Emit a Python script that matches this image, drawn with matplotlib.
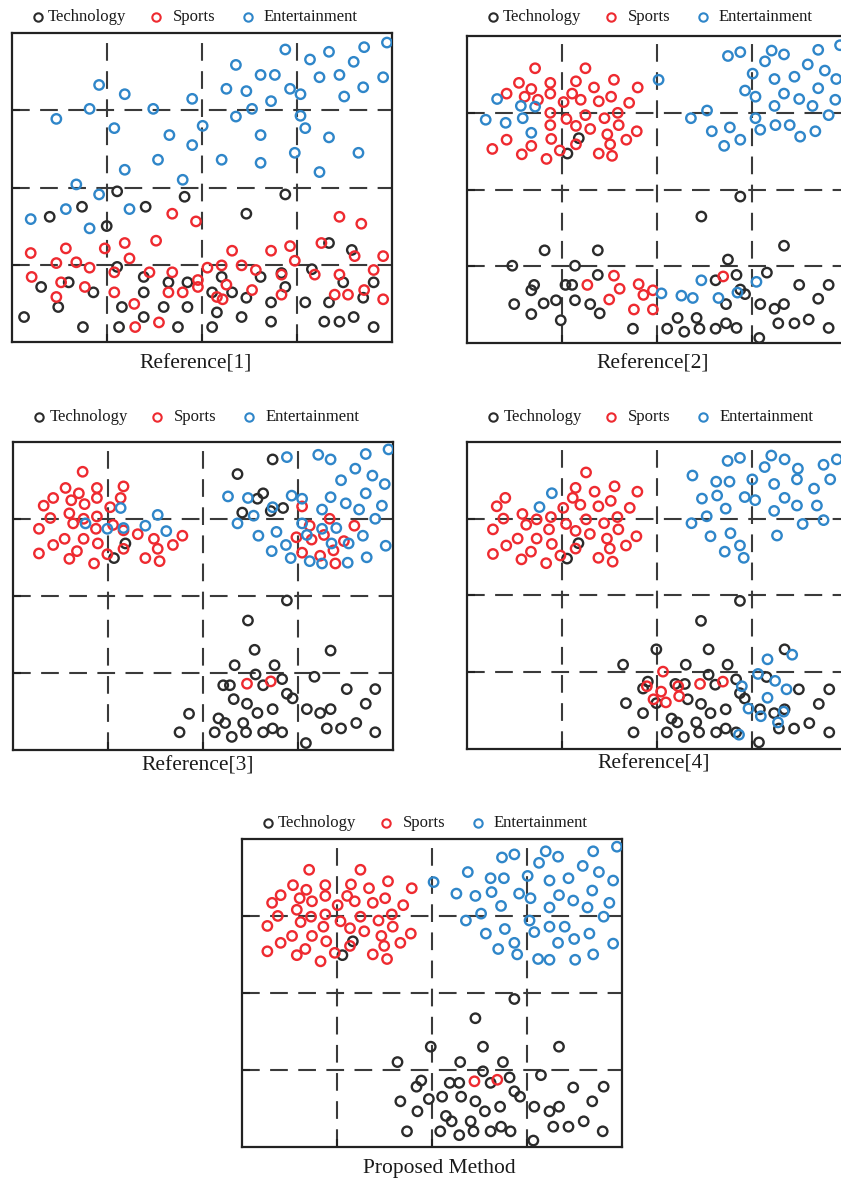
import matplotlib
matplotlib.use("Agg")
import matplotlib.pyplot as plt
import numpy as np

# ---------------- data (grid units 0..4) ----------------
categories = ["Technology", "Sports", "Entertainment"]
titles = ["Reference[1]", "Reference[2]", "Reference[3]", "Reference[4]", "Proposed Method"]

ref1_tech = [(1.11,1.95),(1.82,1.88),(2.88,1.91),(0.74,1.75),(0.40,1.62),(1.41,1.75),(2.47,1.66),(1.00,1.50),
             (3.34,1.28),(3.58,1.19),(1.11,0.97),(3.16,0.94),(1.39,0.84),(2.21,0.84),(2.62,0.84),(2.84,0.89),
             (1.65,0.77),(1.85,0.77),(3.49,0.77),(3.81,0.77),(0.60,0.77),(0.31,0.71),(0.86,0.64),(1.39,0.64),
             (2.11,0.64),(2.32,0.64),(2.88,0.71),(2.47,0.57),(3.70,0.57),(0.49,0.45),(1.16,0.45),(1.60,0.45),
             (1.85,0.45),(2.73,0.51),(3.09,0.51),(3.34,0.51),(2.16,0.38),(1.39,0.32),(0.13,0.32),(2.42,0.32),
             (2.73,0.26),(3.29,0.26),(3.45,0.26),(3.60,0.32),(0.75,0.19),(1.13,0.19),(1.75,0.19),(2.11,0.19),
             (3.81,0.19)]
ref1_sports = [(1.69,1.66),(1.94,1.56),(3.45,1.62),(3.68,1.53),(0.20,1.15),(0.57,1.21),(0.98,1.21),(1.19,1.28),
               (1.52,1.31),(1.24,1.08),(0.47,1.02),(0.68,1.03),(0.82,0.96),(2.32,1.18),(2.73,1.18),(2.93,1.24),
               (2.98,1.05),(3.26,1.28),(3.61,1.11),(3.91,1.11),(0.21,0.84),(0.52,0.77),(1.08,0.90),(1.45,0.90),
               (1.69,0.90),(2.06,0.96),(2.21,0.99),(2.42,0.99),(2.57,0.93),(2.84,0.87),(3.19,0.87),(3.45,0.87),
               (3.81,0.93),(1.96,0.80),(1.96,0.71),(2.26,0.74),(0.77,0.71),(1.08,0.64),(1.65,0.64),(1.80,0.64),
               (2.53,0.67),(2.16,0.58),(2.22,0.55),(2.84,0.61),(3.40,0.61),(3.54,0.61),(3.71,0.67),(3.91,0.55),
               (0.47,0.58),(1.29,0.49),(1.55,0.25),(1.30,0.19)]
ref1_ent = [(3.95,3.88),(2.88,3.79),(3.14,3.66),(3.34,3.76),(3.71,3.82),(3.60,3.63),(2.36,3.59),(2.62,3.46),
            (2.77,3.46),(3.24,3.43),(3.45,3.46),(3.91,3.43),(0.92,3.33),(2.26,3.28),(2.47,3.25),(2.93,3.28),
            (3.04,3.21),(3.70,3.30),(1.19,3.21),(1.90,3.15),(3.50,3.18),(2.73,3.12),(0.82,3.02),(1.49,3.02),
            (2.53,3.02),(0.47,2.89),(2.36,2.92),(3.04,2.93),(1.08,2.77),(2.01,2.80),(3.09,2.77),(1.66,2.68),
            (2.62,2.68),(3.34,2.65),(1.90,2.55),(2.98,2.45),(3.65,2.45),(1.54,2.36),(2.21,2.36),(2.62,2.32),
            (1.19,2.23),(3.24,2.20),(1.80,2.10),(0.68,2.04),(0.92,1.91),(0.57,1.72),(1.24,1.72),(0.20,1.59),
            (0.82,1.47)]

ref2_tech = [(2.88,1.91),(2.47,1.65),(3.34,1.27),(0.82,1.21),(1.38,1.21),(0.48,1.01),(1.14,1.01),(2.75,1.09),
             (1.38,0.89),(0.71,0.76),(0.68,0.69),(1.04,0.76),(1.11,0.76),(2.62,0.82),(2.84,0.89),(3.16,0.92),
             (3.50,0.76),(3.81,0.76),(2.88,0.70),(2.93,0.64),(0.50,0.51),(0.81,0.52),(0.94,0.56),(1.14,0.56),
             (1.30,0.51),(0.68,0.38),(1.40,0.39),(0.99,0.30),(2.73,0.51),(3.09,0.51),(3.24,0.45),(3.34,0.51),
             (3.70,0.58),(2.22,0.33),(2.42,0.33),(3.28,0.26),(3.45,0.26),(3.60,0.31),(1.75,0.19),(2.11,0.19),
             (2.29,0.15),(2.45,0.19),(2.62,0.19),(2.73,0.26),(2.84,0.20),(3.81,0.20),(3.08,0.07),(1.18,2.67),
             (1.06,2.47)]
ref2_sports = [(0.72,3.58),(1.25,3.58),(0.55,3.39),(0.68,3.31),(0.88,3.39),(1.15,3.41),(1.55,3.43),(1.80,3.33),
               (1.34,3.33),(0.42,3.25),(0.61,3.21),(0.75,3.17),(0.88,3.25),(1.11,3.25),(1.20,3.17),(1.02,3.14),
               (1.39,3.15),(1.52,3.21),(1.71,3.13),(0.88,3.00),(1.05,2.92),(1.25,2.97),(1.45,2.93),(1.59,3.00),
               (0.88,2.84),(1.15,2.83),(1.30,2.79),(1.60,2.84),(1.48,2.72),(1.79,2.76),(0.42,2.65),(0.27,2.53),
               (0.68,2.57),(0.89,2.66),(1.15,2.59),(1.51,2.59),(1.68,2.65),(0.58,2.46),(0.98,2.51),(1.39,2.47),
               (1.53,2.44),(0.84,2.40),(1.55,0.88),(1.27,0.76),(1.61,0.71),(1.81,0.77),(1.86,0.63),(1.96,0.69),
               (1.50,0.57),(1.76,0.44),(1.96,0.44),(2.70,0.87)]
ref2_ent = [(0.32,3.18),(0.57,3.09),(0.72,3.08),(0.20,2.91),(0.41,2.87),(0.59,2.93),(0.68,2.74),(2.02,3.43),
            (2.75,3.74),(2.88,3.79),(3.21,3.81),(3.34,3.76),(3.70,3.82),(3.93,3.88),(3.14,3.67),(3.59,3.63),
            (3.01,3.51),(3.24,3.44),(3.45,3.47),(3.77,3.55),(3.89,3.44),(2.93,3.29),(3.04,3.21),(3.34,3.25),
            (3.70,3.32),(3.50,3.18),(3.88,3.17),(3.24,3.09),(3.64,3.09),(2.53,3.03),(2.36,2.93),(3.04,2.93),
            (3.81,2.97),(2.58,2.76),(2.77,2.81),(3.09,2.78),(3.25,2.84),(3.40,2.84),(2.71,2.57),(2.88,2.65),
            (3.51,2.69),(3.67,2.76),(2.47,0.82),(2.05,0.65),(2.26,0.62),(2.38,0.59),(2.65,0.59),(2.85,0.66),
            (3.05,0.80)]

ref3_tech = [(2.73,3.77),(2.36,3.58),(2.63,3.33),(2.57,3.26),(2.84,3.14),(2.71,3.10),(2.41,3.08),(1.18,2.68),
             (1.06,2.49),(2.88,1.94),(2.47,1.68),(2.54,1.30),(3.34,1.29),(2.33,1.10),(2.75,1.10),(2.55,0.98),
             (2.83,0.92),(3.17,0.95),(2.21,0.84),(2.28,0.84),(2.63,0.84),(3.51,0.79),(3.81,0.79),(2.88,0.73),
             (2.94,0.67),(2.32,0.66),(2.46,0.60),(2.73,0.53),(2.57,0.48),(3.09,0.53),(3.23,0.48),(3.34,0.53),
             (3.71,0.60),(1.85,0.47),(2.16,0.41),(2.23,0.35),(2.42,0.35),(3.30,0.28),(3.45,0.28),(3.61,0.35),
             (1.75,0.23),(2.12,0.23),(2.30,0.17),(2.45,0.23),(2.63,0.23),(2.73,0.28),(2.83,0.23),(3.81,0.23),
             (3.08,0.09)]
ref3_sports = [(0.73,3.61),(0.55,3.40),(0.69,3.33),(0.88,3.40),(1.16,3.42),(0.42,3.27),(0.32,3.17),(0.61,3.24),
               (0.75,3.19),(0.88,3.27),(1.13,3.27),(1.02,3.15),(0.39,3.01),(0.59,3.07),(0.63,2.94),(0.74,3.00),
               (0.88,3.03),(1.05,2.92),(0.27,2.87),(0.54,2.74),(0.74,2.74),(0.87,2.87),(1.16,2.85),(1.31,2.80),
               (1.48,2.74),(1.78,2.78),(0.42,2.66),(0.89,2.68),(1.16,2.61),(1.52,2.61),(1.68,2.66),(0.27,2.55),
               (0.67,2.58),(0.59,2.48),(0.99,2.54),(1.39,2.49),(1.54,2.45),(0.85,2.42),(3.04,3.16),(3.33,3.00),
               (3.12,2.91),(3.59,2.91),(2.98,2.76),(3.14,2.73),(3.27,2.79),(3.48,2.71),(3.04,2.56),(3.37,2.59),
               (3.23,2.52),(3.39,2.42),(2.46,0.86),(2.71,0.89)]
ref3_ent = [(1.13,3.14),(1.52,3.05),(0.76,2.94),(0.99,2.87),(1.16,2.88),(1.39,2.91),(1.61,2.84),(2.88,3.80),
            (3.21,3.83),(3.34,3.77),(3.71,3.84),(3.95,3.90),(3.60,3.65),(3.78,3.56),(3.45,3.50),(3.91,3.45),
            (3.71,3.33),(2.26,3.29),(2.47,3.27),(2.93,3.30),(3.04,3.26),(3.34,3.28),(3.50,3.20),(3.88,3.17),
            (3.25,3.12),(3.64,3.12),(2.73,3.15),(2.53,3.04),(2.36,2.94),(3.04,2.94),(3.81,3.00),(2.58,2.78),
            (2.77,2.83),(3.09,2.79),(3.25,2.87),(3.40,2.88),(2.72,2.58),(2.87,2.66),(3.35,2.68),(3.53,2.68),
            (3.68,2.78),(3.92,2.65),(2.92,2.49),(3.12,2.45),(3.25,2.42),(3.52,2.43),(3.72,2.50)]

ref4_tech = [(1.17,2.68),(1.05,2.48),(2.87,1.93),(2.46,1.67),(1.99,1.30),(2.54,1.30),(3.34,1.30),(1.64,1.10),
             (2.30,1.10),(2.74,1.10),(2.54,0.97),(2.83,0.91),(3.15,0.94),(1.90,0.88),(1.85,0.79),(2.19,0.85),
             (2.29,0.85),(2.61,0.84),(3.49,0.78),(3.81,0.78),(2.87,0.73),(2.92,0.66),(2.32,0.65),(1.67,0.60),
             (1.99,0.60),(2.46,0.59),(1.85,0.47),(2.56,0.47),(2.72,0.52),(3.08,0.52),(3.23,0.47),(3.34,0.52),
             (3.70,0.59),(2.15,0.40),(2.21,0.35),(2.41,0.35),(3.28,0.27),(3.44,0.27),(3.60,0.34),(1.75,0.22),
             (2.10,0.22),(2.28,0.16),(2.44,0.22),(2.62,0.22),(2.72,0.27),(2.83,0.22),(3.81,0.22),(3.07,0.09)]
ref4_sports = [(1.25,3.60),(1.14,3.40),(1.55,3.42),(1.79,3.35),(1.34,3.35),(0.40,3.27),(0.31,3.16),(1.11,3.27),
               (1.19,3.18),(1.01,3.14),(1.38,3.16),(1.51,3.23),(1.71,3.14),(0.58,3.06),(0.38,3.00),(0.73,2.99),
               (0.88,3.02),(0.62,2.92),(1.04,2.93),(1.25,2.99),(1.44,2.94),(1.58,3.02),(0.27,2.86),(0.86,2.86),
               (1.14,2.84),(1.59,2.86),(0.53,2.74),(0.73,2.74),(1.29,2.80),(1.47,2.74),(1.78,2.77),(0.41,2.65),
               (0.89,2.67),(1.14,2.61),(1.50,2.61),(1.67,2.65),(0.27,2.54),(0.67,2.57),(0.57,2.47),(0.98,2.52),
               (1.38,2.49),(1.53,2.44),(0.83,2.42),(2.06,1.01),(1.89,0.82),(2.04,0.75),(1.96,0.65),(2.09,0.61),
               (2.22,0.82),(2.23,0.69),(2.45,0.85),(2.69,0.88)]
ref4_ent = [(0.89,3.33),(0.76,3.15),(2.74,3.75),(2.87,3.79),(3.20,3.82),(3.34,3.77),(3.48,3.65),(3.75,3.70),
            (3.89,3.77),(3.13,3.67),(2.37,3.56),(2.62,3.48),(2.76,3.48),(3.00,3.51),(3.23,3.45),(3.47,3.51),
            (3.82,3.51),(3.65,3.39),(2.47,3.26),(2.63,3.30),(2.92,3.28),(3.03,3.24),(3.34,3.27),(3.47,3.17),
            (3.68,3.17),(2.72,3.13),(3.23,3.10),(2.52,3.03),(2.36,2.94),(3.53,2.93),(3.75,2.98),(2.56,2.77),
            (2.77,2.81),(3.26,2.78),(2.71,2.57),(2.87,2.65),(2.91,2.49),(3.16,1.17),(3.42,1.23),(3.06,0.98),
            (3.24,0.89),(3.36,0.78),(2.89,0.82),(3.16,0.67),(2.96,0.53),(3.09,0.43),(3.33,0.49),(3.27,0.35),
            (2.86,0.19)]

prop_tech = [(1.17,2.67),(1.06,2.49),(2.87,1.92),(2.46,1.67),(1.99,1.30),(2.54,1.30),(3.34,1.30),(1.64,1.10),
             (2.30,1.10),(2.75,1.10),(2.54,0.98),(2.82,0.90),(3.15,0.93),(1.89,0.86),(1.84,0.78),(2.19,0.83),
             (2.29,0.83),(2.62,0.83),(3.49,0.77),(3.81,0.78),(2.87,0.72),(2.93,0.65),(2.11,0.65),(2.31,0.65),
             (1.67,0.59),(1.97,0.62),(2.46,0.59),(1.85,0.46),(2.56,0.46),(2.72,0.52),(3.08,0.52),(3.24,0.46),
             (3.34,0.52),(3.69,0.59),(2.15,0.40),(2.21,0.33),(2.41,0.33),(3.28,0.26),(3.44,0.26),(3.60,0.33),
             (1.74,0.20),(2.09,0.20),(2.29,0.15),(2.44,0.20),(2.62,0.20),(2.73,0.26),(2.83,0.20),(3.80,0.20),
             (3.07,0.08)]
prop_sports = [(0.71,3.60),(1.25,3.60),(0.54,3.40),(0.68,3.34),(0.88,3.40),(1.15,3.41),(1.54,3.45),(1.79,3.36),
               (1.34,3.36),(0.41,3.27),(0.32,3.17),(0.61,3.23),(0.74,3.19),(0.88,3.26),(1.11,3.26),(1.19,3.19),
               (1.01,3.14),(1.38,3.17),(1.51,3.23),(1.70,3.14),(0.58,3.08),(0.38,3.00),(0.73,2.99),(0.88,3.02),
               (0.62,2.92),(1.04,2.93),(1.25,2.99),(1.44,2.94),(1.58,3.02),(0.27,2.87),(0.86,2.86),(1.14,2.84),
               (1.59,2.86),(0.53,2.74),(0.74,2.74),(1.29,2.80),(1.47,2.74),(1.78,2.77),(0.41,2.65),(0.89,2.67),
               (1.14,2.61),(1.50,2.61),(1.67,2.65),(0.27,2.54),(0.67,2.57),(0.58,2.49),(0.98,2.52),(1.38,2.50),
               (1.53,2.44),(0.83,2.41),(2.45,0.85),(2.69,0.87)]
prop_ent = [(2.02,3.44),(2.74,3.76),(2.87,3.80),(3.20,3.84),(3.33,3.77),(3.70,3.84),(3.95,3.90),(3.13,3.69),
            (3.59,3.65),(2.38,3.57),(2.62,3.49),(2.76,3.49),(3.01,3.52),(3.24,3.46),(3.44,3.49),(3.76,3.57),
            (3.91,3.46),(2.26,3.29),(2.46,3.26),(2.63,3.31),(2.92,3.29),(3.04,3.23),(3.34,3.27),(3.69,3.33),
            (3.49,3.20),(3.87,3.17),(2.73,3.13),(3.24,3.11),(3.64,3.11),(2.52,3.03),(2.36,2.94),(3.03,2.94),
            (3.81,2.99),(2.57,2.77),(2.77,2.83),(3.08,2.79),(3.24,2.86),(3.40,2.86),(3.66,2.77),(2.70,2.57),
            (2.87,2.65),(3.33,2.65),(3.50,2.70),(3.91,2.64),(2.90,2.50),(3.12,2.44),(3.24,2.43),(3.51,2.43),
            (3.70,2.50)]

panels = [
    (ref1_tech, ref1_sports, ref1_ent),
    (ref2_tech, ref2_sports, ref2_ent),
    (ref3_tech, ref3_sports, ref3_ent),
    (ref4_tech, ref4_sports, ref4_ent),
    (prop_tech, prop_sports, prop_ent),
]

# ---------------- style ----------------
colors = ["#2b2b2b", "#ee2a30", "#2f86c9"]
W, H = 841, 1182
# axes boxes in pixels: left, top, width, height
boxes = [(11.7, 33.3, 380, 308.4), (466.7, 36, 380, 307.3), (13.3, 441.7, 380, 308.3),
         (467.3, 441.7, 380, 307.6), (241.7, 839, 380, 307.7)]
legend_gap = [16, 19, 25, 25, 16]     # px above axes top
title_gap = [22, 21, 16, 15, 22]      # px below axes bottom
title_x = [0.485, 0.49, 0.485, 0.49, 0.52]

serif = ["Liberation Serif", "DejaVu Serif"]

fig = plt.figure(figsize=(W / 100, H / 100), dpi=100)

for i, (data, box) in enumerate(zip(panels, boxes)):
    l, t, w, h = box
    ax = fig.add_axes([l / W, 1 - (t + h) / H, w / W, h / H])
    ax.set_xlim(0, 4)
    ax.set_ylim(0, 4)
    for v in (1, 2, 3):
        ax.axvline(v, color="#3a3a3a", lw=1.5, ls=(0, (8.5, 5)), zorder=1)
        ax.axhline(v, color="#3a3a3a", lw=1.5, ls=(0, (8.5, 5)), zorder=1)
    # draw order: technology, sports, entertainment
    for pts, c in zip(data, colors):
        arr = np.array(pts)
        ax.scatter(arr[:, 0], arr[:, 1], s=46, facecolors="none", edgecolors=c,
                   linewidths=1.7, zorder=3)
    ax.set_xticks([1, 2, 3])
    ax.set_yticks([1, 2, 3])
    ax.tick_params(direction="in", length=6, width=1.5, color="#222222",
                   labelbottom=False, labelleft=False)
    for s in ax.spines.values():
        s.set_linewidth(1.6)
        s.set_color("#222222")

    # legend row
    ly = 1 + legend_gap[i] / h
    marker_off = [26, 144, 236]
    text_off = [36, 161, 252]
    for cat, c, mo, to in zip(categories, colors, marker_off, text_off):
        ax.plot([mo / w], [ly], marker="o", ms=6, mfc="none", mec=c, mew=1.5,
                transform=ax.transAxes, clip_on=False, ls="none")
        ax.text(to / w, ly, cat, transform=ax.transAxes, ha="left", va="center",
                fontsize=12, family=serif, color="#1a1a1a")

    # title
    ax.text(title_x[i], -title_gap[i] / h, titles[i], transform=ax.transAxes,
            ha="center", va="center", fontsize=15.5, family=serif, color="#1a1a1a")

fig.savefig("out.png", dpi=100)
